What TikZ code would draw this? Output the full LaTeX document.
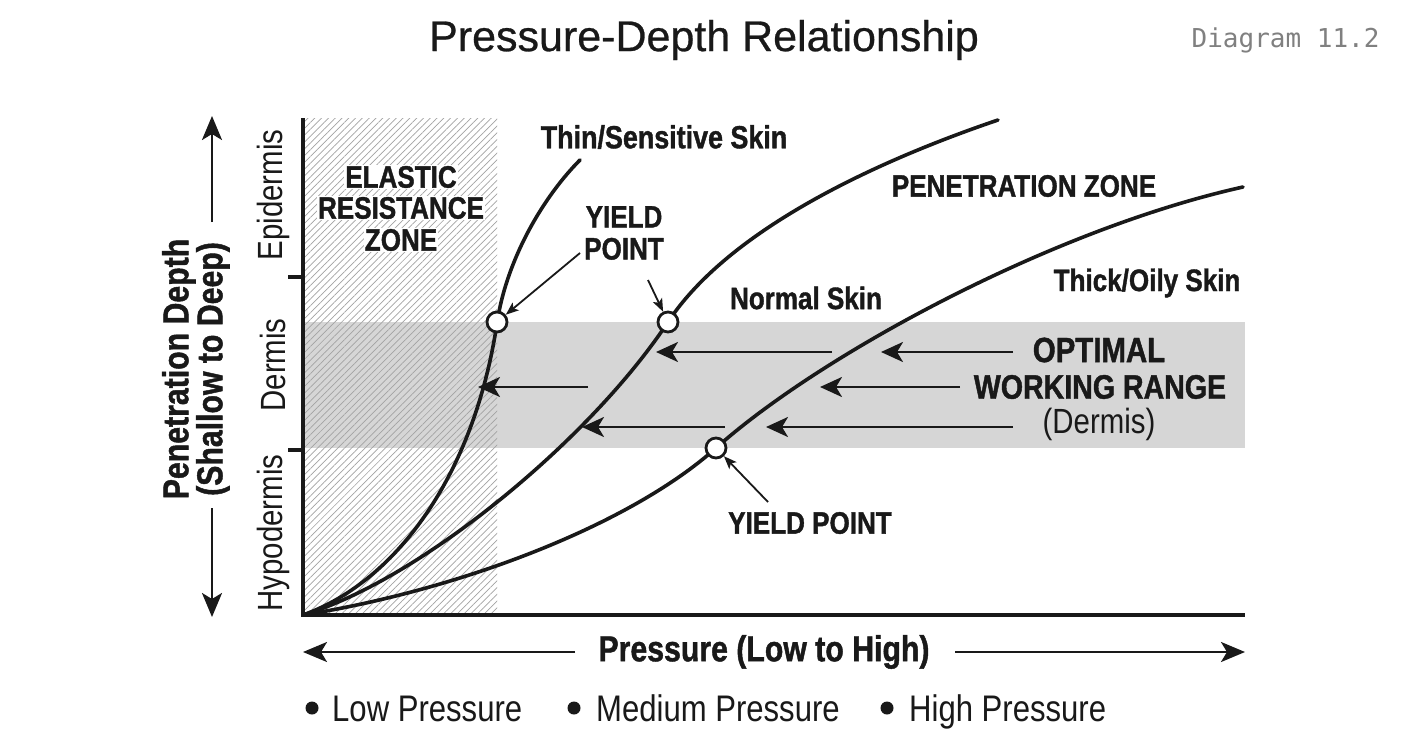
\documentclass[tikz,border=0pt]{standalone}
\usepackage{fontspec}
\setmainfont{Liberation Sans}
\newfontfamily\cond[FakeStretch=0.84, BoldFeatures={FakeBold=1.2}]{Liberation Sans}
\newfontfamily\titlef[FakeBold=0.6]{Liberation Sans}
\newfontfamily\monof{DejaVu Sans Mono}
\usetikzlibrary{arrows.meta,patterns.meta}
\tikzset{
  lbl/.style={font=\cond\bfseries\fontsize{31}{33}\selectfont, text=black!90, inner sep=1pt, align=center},
  lblreg/.style={font=\cond\fontsize{31}{33}\selectfont, text=black!90, inner sep=1pt, align=center},
  layer/.style={font=\cond\fontsize{35}{37}\selectfont, text=black!90, rotate=90, inner sep=0pt},
  curve/.style={line width=3.6pt, black!90, line cap=round},
  axis/.style={line width=3.6pt, black!90},
  band arrow/.style={line width=2.8pt, black!90, -{Stealth[length=22pt,width=20pt,inset=6pt]}},
  ptr/.style={line width=1.8pt, black!90, -{Stealth[length=13pt,width=10pt,inset=3pt]}},
  yp/.style={circle, draw=black!90, line width=2.8pt, fill=white, minimum size=20pt, inner sep=0pt},
  longarrow/.style={line width=2.6pt, black!90, -{Stealth[length=24pt,width=20pt,inset=6pt]}},
  dot/.style={circle, fill=black!90, minimum size=13pt, inner sep=0pt},
  leg/.style={font=\cond\fontsize{37}{39}\selectfont, text=black!90, inner sep=0pt, anchor=base west}
}
\begin{document}
\begin{tikzpicture}[x=1pt,y=-1pt]
\useasboundingbox (0,0) rectangle (1408,752);
\fill[white] (0,0) rectangle (1408,752);
% band and hatch
\fill[black!16] (303,322) rectangle (1245,448);
\fill[pattern={Lines[angle=45,distance=4.8pt,line width=0.7pt]}, pattern color=black!36] (303,118) rectangle (497,615);
% title
\node[font=\titlef\fontsize{43}{46}\selectfont, text=black!90] (title) at (704,40) {Pressure-Depth Relationship};
\node[font=\monof\fontsize{26}{28}\selectfont, text=black!50, anchor=east] (diag) at (1383,40) {Diagram 11.2};
% elastic zone label
\node[lbl, fill=white] (el1) at (401,177) {ELASTIC};
\node[lbl, fill=white] (el2) at (401,208) {RESISTANCE};
\node[lbl, fill=white] (el3) at (401,240) {ZONE};
% axes
\draw[axis] (303,118) -- (303,615) -- (1245,615);
\draw[axis] (288,277) -- (303,277);
\draw[axis] (288,450) -- (303,450);
% layer labels
\node[layer] (epi) at (273,195) {Epidermis};
\node[layer] (der) at (273,365) {Dermis};
\node[layer] (hypo) at (273,533) {Hypodermis};
% y label
\node[font=\cond\bfseries\fontsize{36}{34}\selectfont, rotate=90, align=center, text=black!90] (ylab) at (196,369) {Penetration Depth\\(Shallow to Deep)};
\coordinate (yt1) at (212,222); \coordinate (yt2) at (212,116);
\coordinate (yb1) at (212,508); \coordinate (yb2) at (212,617);
\draw[longarrow] (yt1) -- (yt2);
\draw[longarrow] (yb1) -- (yb2);
% curves
\coordinate (O) at (303,615);
\draw[curve] (O) .. controls (400,580) and (475,470) .. (497,323) .. controls (507,257) and (545,195) .. (580,160);
\draw[curve] (O) .. controls (420,580) and (590,440) .. (668,322) .. controls (730,228) and (880,160) .. (998,120);
\draw[curve] (O) .. controls (460,590) and (630,525) .. (716,448) .. controls (819,356) and (1050,230) .. (1243,187);
% band arrows
\coordinate (a1s) at (832,352); \coordinate (a1e) at (656,352);
\coordinate (a2s) at (1013,352); \coordinate (a2e) at (881,352);
\coordinate (a3s) at (588,387); \coordinate (a3e) at (478,387);
\coordinate (a4s) at (960,387); \coordinate (a4e) at (820,387);
\coordinate (a5s) at (725,427); \coordinate (a5e) at (582,427);
\coordinate (a6s) at (1013,427); \coordinate (a6e) at (766,427);
\foreach \i in {1,...,6} {\draw[band arrow] (a\i s) -- (a\i e);}
% yield points
\node[yp] (y1) at (497,322) {};
\node[yp] (y2) at (668,322) {};
\node[yp] (y3) at (716,448) {};
% labels
\node[lbl, font=\cond\bfseries\fontsize{32}{33}\selectfont] (thin) at (664,137) {Thin/Sensitive Skin};
\node[lbl, font=\cond\bfseries\fontsize{31}{32}\selectfont] (yl1) at (624,233) {YIELD\\POINT};
\node[lbl] (pen) at (1024,186) {PENETRATION ZONE};
\node[lbl] (norm) at (806,298) {Normal Skin};
\node[lbl] (thick) at (1147,283) {Thick/Oily Skin};
\node[lbl, font=\cond\bfseries\fontsize{35}{37}\selectfont] (opt1) at (1099,350) {OPTIMAL};
\node[lbl, font=\cond\bfseries\fontsize{34}{37}\selectfont] (opt2) at (1100,387) {WORKING RANGE};
\node[lblreg, font=\cond\fontsize{35}{37}\selectfont] (opt3) at (1099,424) {(Dermis)};
\node[lbl] (yl3) at (810,523) {YIELD POINT};
% pointers
\coordinate (p1) at (580,253);
\coordinate (p2) at (648,280);
\coordinate (p3) at (768,502);
\draw[ptr] (p1) -- (y1);
\draw[ptr] (p2) -- (y2);
\draw[ptr] (p3) -- (y3);
% x label
\node[lbl, font=\cond\bfseries\fontsize{36}{38}\selectfont] (xlab) at (764,652) {Pressure (Low to High)};
\coordinate (xl1) at (575,652); \coordinate (xl2) at (303,652);
\coordinate (xr1) at (955,652); \coordinate (xr2) at (1245,652);
\draw[longarrow] (xl1) -- (xl2);
\draw[longarrow] (xr1) -- (xr2);
% legend
\node[dot] (d1) at (312,708) {};
\node[dot] (d2) at (574,708) {};
\node[dot] (d3) at (887,708) {};
\node[leg] (l1) at (332,721) {Low Pressure};
\node[leg] (l2) at (596,721) {Medium Pressure};
\node[leg] (l3) at (909,721) {High Pressure};
\end{tikzpicture}
\end{document}
